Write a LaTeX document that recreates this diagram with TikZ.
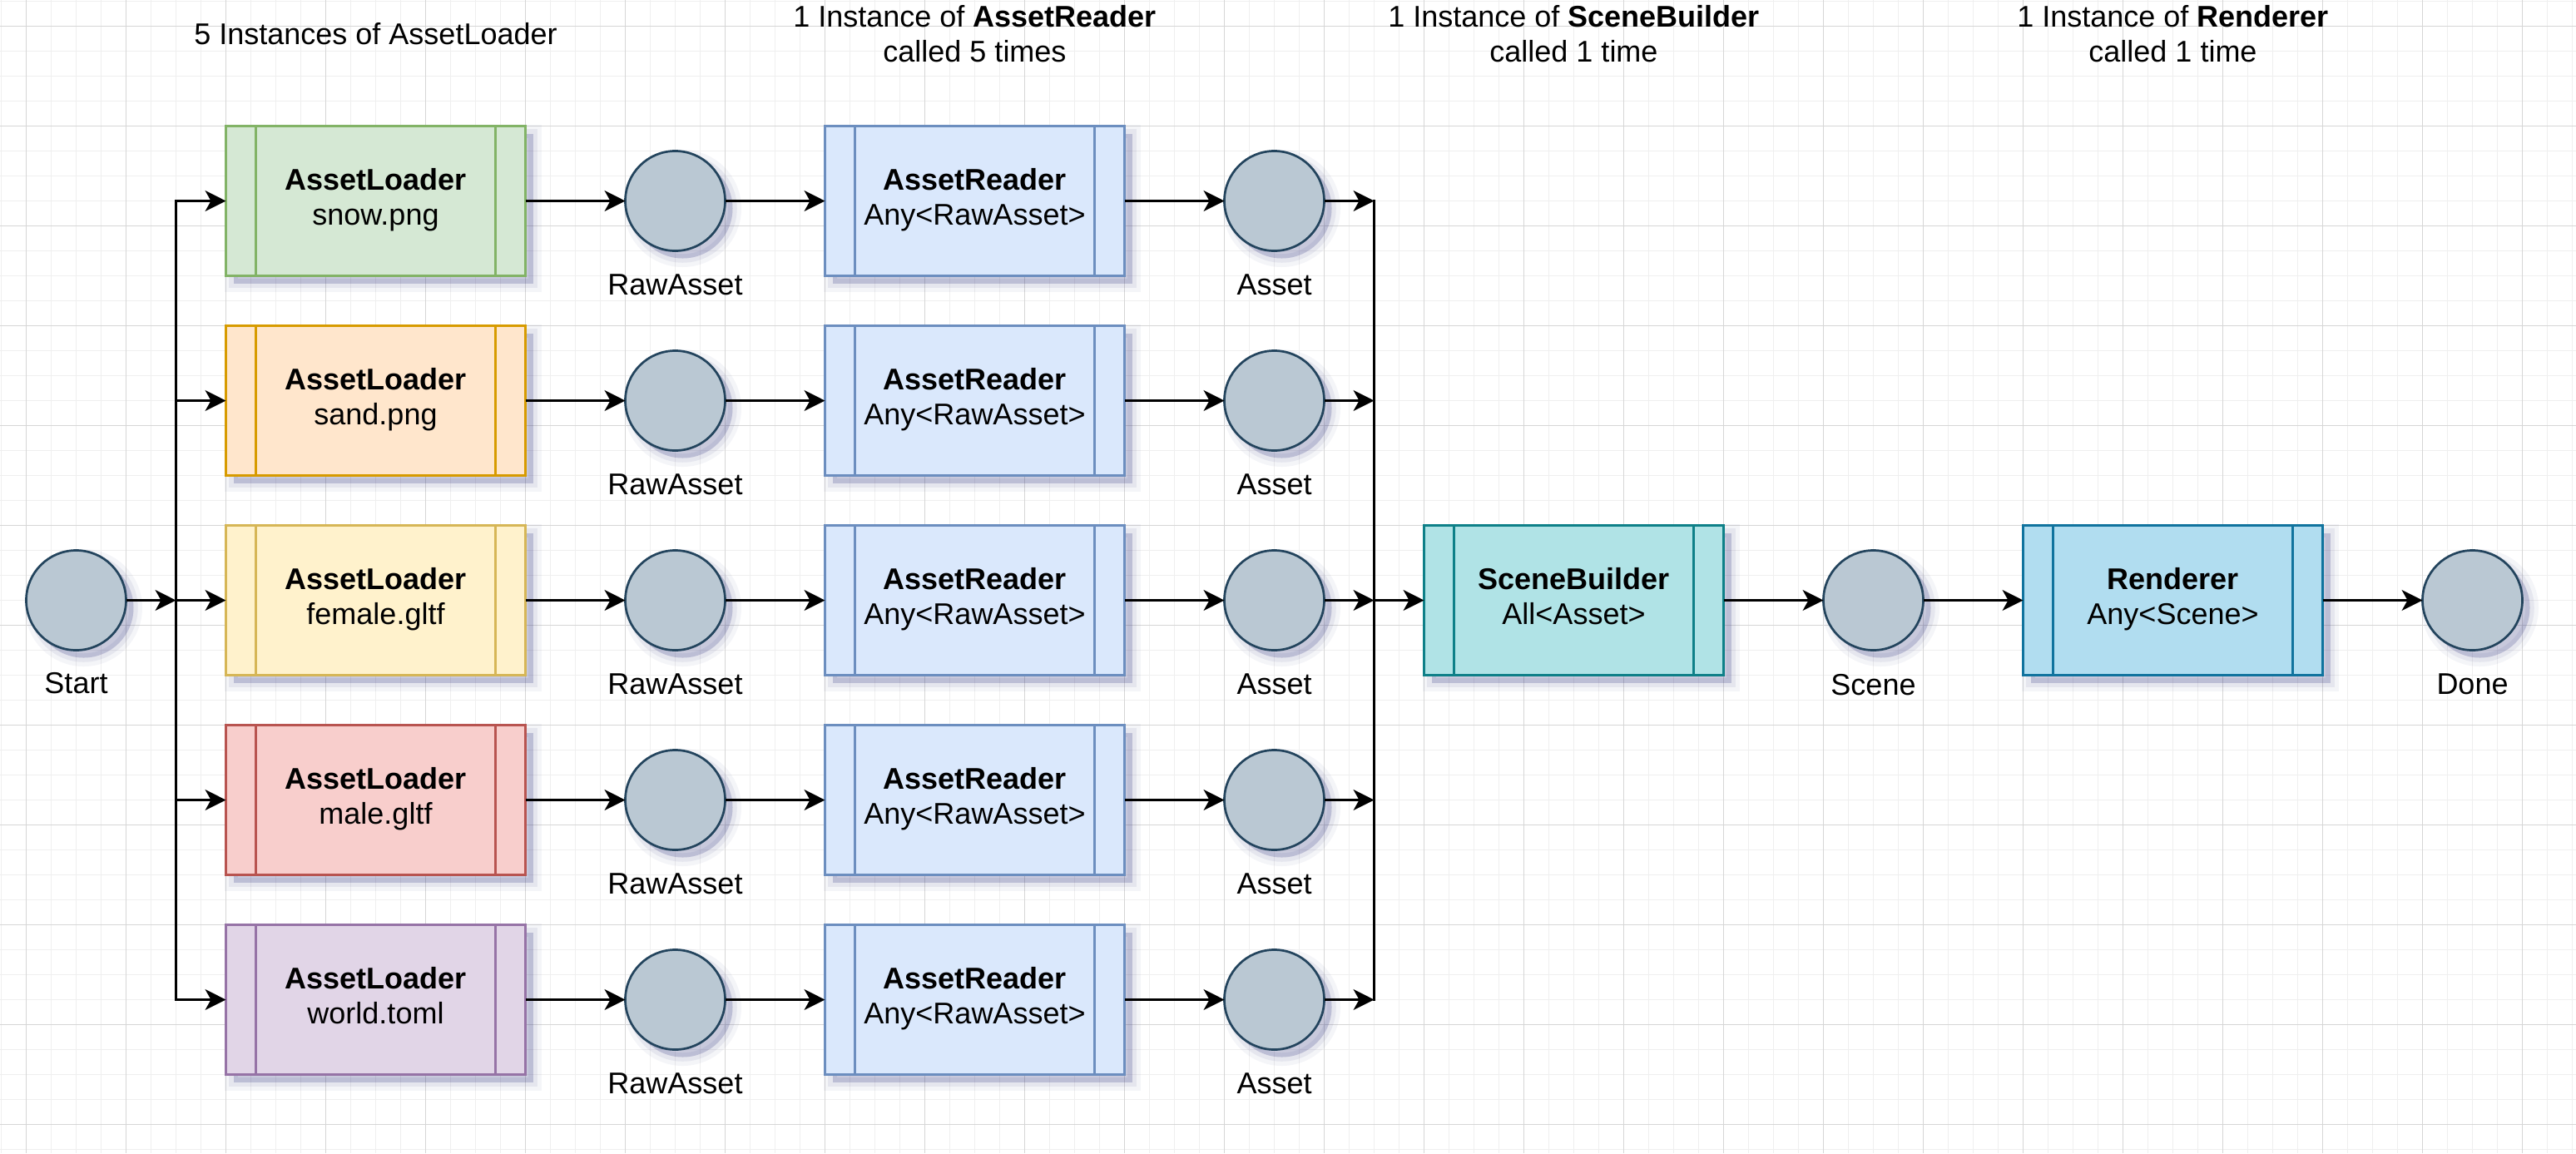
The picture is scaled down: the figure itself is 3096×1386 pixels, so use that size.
\documentclass[tikz,border=0pt]{standalone}
\usepackage{fontspec}
\setmainfont{Liberation Sans}
\usetikzlibrary{arrows.meta,shadows}
\definecolor{gridmin}{HTML}{EFEFEF}
\definecolor{gridmaj}{HTML}{D6D6D6}
\definecolor{grF}{HTML}{D5E8D4}\definecolor{grS}{HTML}{82B366}
\definecolor{orF}{HTML}{FFE6CC}\definecolor{orS}{HTML}{D79B00}
\definecolor{yeF}{HTML}{FFF2CC}\definecolor{yeS}{HTML}{D6B656}
\definecolor{reF}{HTML}{F8CECC}\definecolor{reS}{HTML}{B85450}
\definecolor{puF}{HTML}{E1D5E7}\definecolor{puS}{HTML}{9673A6}
\definecolor{blF}{HTML}{DAE8FC}\definecolor{blS}{HTML}{6C8EBF}
\definecolor{tlF}{HTML}{B0E3E6}\definecolor{tlS}{HTML}{0E8088}
\definecolor{cyF}{HTML}{B1DDF0}\definecolor{cyS}{HTML}{10739E}
\definecolor{stF}{HTML}{BAC8D3}\definecolor{stS}{HTML}{23445D}
\definecolor{shc}{HTML}{3A3D85}
\begin{document}
\begin{tikzpicture}[x=0.333333pt, y=-0.333333pt,
  every node/.style={font=\fontsize{12}{14}\selectfont},
  arr/.style={draw=black, line width=0.8pt, -{Stealth[length=8.3pt,width=8.3pt,inset=2.3pt]}},
  wire/.style={draw=black, line width=0.8pt, line cap=rect},
  shad/.style={
    general shadow={shadow xshift=3pt, shadow yshift=-3pt, fill=shc, draw=shc, line width=7pt, opacity=0.05},
    general shadow={shadow xshift=3pt, shadow yshift=-3pt, fill=shc, draw=shc, line width=3.5pt, opacity=0.08},
    general shadow={shadow xshift=3pt, shadow yshift=-3pt, fill=shc, opacity=0.12}},
  procbox/.style 2 args={fill=#1, draw=#2, line width=0.9pt, minimum width=120pt, minimum height=60pt,
    inner sep=0pt, outer sep=0pt, align=center, shad},
  statenode/.style={circle, draw=stS, fill=stF, line width=0.9pt, minimum size=40pt, inner sep=0pt, outer sep=0pt, shad},
  lbl/.style={inner sep=0pt},
  hdr/.style={inner sep=0pt, align=center}
]
\useasboundingbox (0,0) rectangle (3096,1386);
\fill[white] (0,0) rectangle (3096,1386);
% grid
\foreach \i in {0,...,103} \draw[gridmin, line width=0.4pt] (1.5+30*\i,0) -- (1.5+30*\i,1386);
\foreach \i in {0,...,46} \draw[gridmin, line width=0.4pt] (0,1.7+30*\i) -- (3096,1.7+30*\i);
\foreach \i in {0,...,25} \draw[gridmaj, line width=0.5pt] (31.5+120*\i,0) -- (31.5+120*\i,1386);
\foreach \i in {0,...,11} \draw[gridmaj, line width=0.5pt] (0,31.7+120*\i) -- (3096,31.7+120*\i);

% headers
\node[hdr] (h1) at (451.5,44.6) {\strut 5 Instances of AssetLoader};
\node[hdr] (h2) at (1171.5,44.6) {\strut 1 Instance of \textbf{AssetReader}\\\strut called 5 times};
\node[hdr] (h3) at (1891.5,44.6) {\strut 1 Instance of \textbf{SceneBuilder}\\\strut called 1 time};
\node[hdr] (h4) at (2611.5,44.6) {\strut 1 Instance of \textbf{Renderer}\\\strut called 1 time};

% start
\node[statenode] (start) at (91.5,721.5) {};
\node[lbl] (startl) at ([yshift=-13.3pt]start.south) {Start};

% rows
\foreach \n/\yy/\f/\s/\fn in {1/241.5/grF/grS/snow.png, 2/481.5/orF/orS/sand.png, 3/721.5/yeF/yeS/female.gltf, 4/961.5/reF/reS/male.gltf, 5/1201.5/puF/puS/world.toml}{
  \coordinate (lb\n) at (211.5,\yy);
  \coordinate (rb\n) at (1651.5,\yy);
  \node[procbox={\f}{\s}] (load\n) at (451.5,\yy) {\strut\textbf{AssetLoader}\\\strut \fn};
  \draw[\s, line width=0.9pt] ([xshift=12pt]load\n.north west) -- ([xshift=12pt]load\n.south west);
  \draw[\s, line width=0.9pt] ([xshift=-12pt]load\n.north east) -- ([xshift=-12pt]load\n.south east);
  \node[statenode] (raw\n) at (811.5,\yy) {};
  \node[lbl] (rawl\n) at ([yshift=-13.7pt]raw\n.south) {RawAsset};
  \node[procbox={blF}{blS}] (read\n) at (1171.5,\yy) {\strut\textbf{AssetReader}\\\strut Any<RawAsset>};
  \draw[blS, line width=0.9pt] ([xshift=12pt]read\n.north west) -- ([xshift=12pt]read\n.south west);
  \draw[blS, line width=0.9pt] ([xshift=-12pt]read\n.north east) -- ([xshift=-12pt]read\n.south east);
  \node[statenode] (asset\n) at (1531.5,\yy) {};
  \node[lbl] (assetl\n) at ([yshift=-13.7pt]asset\n.south) {Asset};
  \draw[arr] (lb\n) -- (load\n);
  \draw[arr] (load\n) -- (raw\n);
  \draw[arr] (raw\n) -- (read\n);
  \draw[arr] (read\n) -- (asset\n);
  \draw[arr] (asset\n) -- (rb\n);
}
\draw[wire] (lb1) -- (lb5);
\draw[wire] (rb1) -- (rb5);
\draw[arr] (start) -- (lb3);

% scene builder
\node[procbox={tlF}{tlS}] (sb) at (1891.5,721.5) {\strut\textbf{SceneBuilder}\\\strut All<Asset>};
\draw[tlS, line width=0.9pt] ([xshift=12pt]sb.north west) -- ([xshift=12pt]sb.south west);
\draw[tlS, line width=0.9pt] ([xshift=-12pt]sb.north east) -- ([xshift=-12pt]sb.south east);
\node[statenode] (scene) at (2251.5,721.5) {};
\node[lbl] (scenel) at ([yshift=-13.7pt]scene.south) {Scene};
\node[procbox={cyF}{cyS}] (rend) at (2611.5,721.5) {\strut\textbf{Renderer}\\\strut Any<Scene>};
\draw[cyS, line width=0.9pt] ([xshift=12pt]rend.north west) -- ([xshift=12pt]rend.south west);
\draw[cyS, line width=0.9pt] ([xshift=-12pt]rend.north east) -- ([xshift=-12pt]rend.south east);
\node[statenode] (done) at (2971.5,721.5) {};
\node[lbl] (donel) at ([yshift=-13.7pt]done.south) {Done};

\draw[arr] (rb3) -- (sb);
\draw[arr] (sb) -- (scene);
\draw[arr] (scene) -- (rend);
\draw[arr] (rend) -- (done);
\end{tikzpicture}
\end{document}
